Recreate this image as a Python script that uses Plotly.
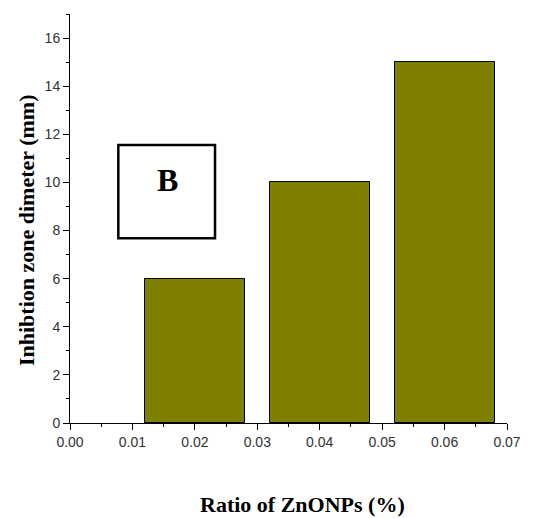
import plotly.graph_objects as go

ratios = [0.02, 0.04, 0.06]
zone_mm = [6, 10, 15]
x_ticks = [0.00, 0.01, 0.02, 0.03, 0.04, 0.05, 0.06, 0.07]
y_ticks = [0, 2, 4, 6, 8, 10, 12, 14, 16]

# page offset (browser default body margin)
OFF = 8
W, H = 552 - OFF, 518 - OFF
L, R, T, B = 70 - OFF, 44.5, 14 - OFF, 95

fig = go.Figure()
fig.add_trace(go.Bar(
    x=ratios, y=zone_mm, width=0.016,
    marker=dict(color="#808000", line=dict(color="#000000", width=1)),
))

fig.add_shape(type="rect", xref="x", yref="y", x0=0.00774, x1=0.02323, y0=7.68, y1=11.55,
              line=dict(color="black", width=2.5), fillcolor="rgba(0,0,0,0)")
fig.add_annotation(x=0.01554, y=10.08, xref="x", yref="y", text="<b>B</b>", showarrow=False,
                   font=dict(family="Liberation Serif", size=32, color="black"))

axis_common = dict(showgrid=False, zeroline=False, showline=True, linecolor="black", linewidth=1,
                   ticks="outside", ticklen=6, tickcolor="black", tickwidth=1, automargin=False,
                   tickfont=dict(family="Liberation Sans", size=14, color="#333333"))

fig.update_xaxes(range=[0, 0.07], tickvals=x_ticks, ticktext=[f"{v:.2f}" for v in x_ticks],
                 minor=dict(ticks="outside", ticklen=3, dtick=0.005, tickcolor="black"),
                 **axis_common)
fig.update_yaxes(range=[0, 17], tickvals=y_ticks,
                 minor=dict(ticks="outside", ticklen=3, dtick=1, tickcolor="black"),
                 **axis_common)

pw = W - L - R
ph = H - T - B


def px_to_paper(px, py):
    # page pixel -> paper coordinates
    fx = px - OFF
    fy = py - OFF
    return (fx - L) / pw, 1 - (fy - T) / ph


xt = px_to_paper(303, 504)
fig.add_annotation(x=xt[0], y=xt[1], xref="paper", yref="paper", xanchor="center", yanchor="middle",
                   text="<b>Ratio of ZnONPs (%)</b>", showarrow=False,
                   font=dict(family="Liberation Serif", size=22, color="black"))
yt = px_to_paper(26, 230)
fig.add_annotation(x=yt[0], y=yt[1], xref="paper", yref="paper", xanchor="center", yanchor="middle",
                   text="<b>Inhibtion zone dimeter (mm)</b>", textangle=-90, showarrow=False,
                   font=dict(family="Liberation Serif", size=22, color="black"))

fig.update_layout(width=W, height=H, margin=dict(l=L, r=R, t=T, b=B),
                  plot_bgcolor="white", paper_bgcolor="white", showlegend=False, bargap=0)

fig.write_html("out.html")
